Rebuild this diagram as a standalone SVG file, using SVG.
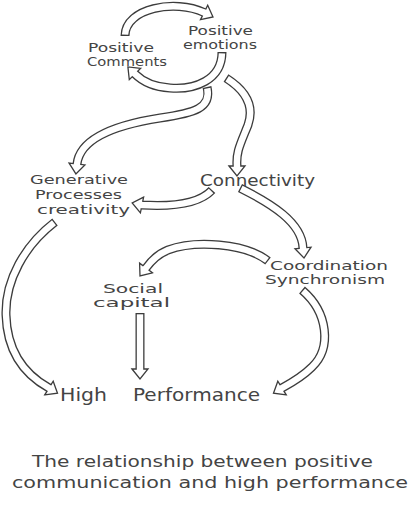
<svg xmlns="http://www.w3.org/2000/svg" width="413" height="512" viewBox="0 0 413 512">
<style>
.o{fill:none;stroke:#3c3c3c;stroke-width:9;stroke-linecap:butt;stroke-linejoin:round}
.i{fill:none;stroke:#fff;stroke-width:6.4;stroke-linecap:butt;stroke-dasharray:0 1.3 2000}
.h{fill:#fff;stroke:#3c3c3c;stroke-width:1.3;stroke-linejoin:miter}
text{font-family:"DejaVu Sans","Noto Sans",sans-serif;font-weight:normal;fill:#444}
.s12{font-size:12px}.s13{font-size:13px}.s15{font-size:15px}.s18{font-size:18px}.s16{font-size:16px}
</style>
<defs>
<path id="p1" d="M125,36 C125,8 175,-1 204.1,12.5 l2.7,1.3"/>
<path id="p2" d="M222,52 C222,80 195,90 170,88 C155,87 143,82 135,74 l-2.1,-2.1"/>
<path id="p3" d="M207,87 C212,108 195,113 160,118 C115,125 80,138 77,164 l-0.3,3"/>
<path id="p4" d="M226,78 C245,90 255,105 248,125 C240,145 236,152 237,166 l0,3"/>
<path id="p5" d="M212,190 C200,203 175,207 142,205 l-2.9,-0.6"/>
<path id="p6" d="M240,188 C270,203 302,222 303,248 l0.3,3"/>
<path id="p7" d="M55,222 C25,245 5,280 6,315 C7,350 22,373 49,388 l2.6,1.6"/>
<path id="p8" d="M268,261 C245,243 195,240 168,250 C158,254 151,261 146,268 l-1.8,2.4"/>
<path id="p9" d="M140,313 L140,369 l0,3"/>
<path id="p10" d="M302,290 C328,312 332,348 312,367 C303,376 293,382 282,388 l-2.6,1.6"/>
</defs>
<rect width="413" height="512" fill="#fff"/>
<g id="connectors">
<g id="a1"><use href="#p1" class="o"/><polygon class="h" points="200.5,19.7 213,17 207.7,5.3"/><use href="#p1" class="i"/></g>
<g id="a2"><use href="#p2" class="o"/><polygon class="h" points="140.7,68.3 127.9,66.9 129.3,79.7"/><use href="#p2" class="i"/></g>
<g id="a3"><use href="#p3" class="o"/><polygon class="h" points="69.1,163.1 75.9,173.9 84.9,164.9"/><use href="#p3" class="i"/></g>
<g id="a4"><use href="#p4" class="o"/><polygon class="h" points="229,166 237,176 245,166"/><use href="#p4" class="i"/></g>
<g id="a5"><use href="#p5" class="o"/><polygon class="h" points="143.6,197.2 132.2,203 140.4,212.8"/><use href="#p5" class="i"/></g>
<g id="a6"><use href="#p6" class="o"/><polygon class="h" points="295,248.8 304,258 311,247.2"/><use href="#p6" class="i"/></g>
<g id="a7"><use href="#p7" class="o"/><polygon class="h" points="44.8,394.8 57.5,393.2 53.2,381.2"/><use href="#p7" class="i"/></g>
<g id="a8"><use href="#p8" class="o"/><polygon class="h" points="152.4,272.8 140,276 139.6,263.2"/><use href="#p8" class="i"/></g>
<g id="a9"><use href="#p9" class="o"/><polygon class="h" points="132,369 140,379 148,369"/><use href="#p9" class="i"/></g>
<g id="a10"><use href="#p10" class="o"/><polygon class="h" points="286.2,394.8 273.5,393.2 277.8,381.2"/><use href="#p10" class="i"/></g>
</g>
<g id="positive-comments">
<text class="s12" x="88" y="52" textLength="66" lengthAdjust="spacingAndGlyphs">Positive</text>
<text class="s12" x="87" y="66" textLength="80" lengthAdjust="spacingAndGlyphs">Comments</text>
</g>
<g id="positive-emotions">
<text class="s12" x="188" y="35" textLength="65" lengthAdjust="spacingAndGlyphs">Positive</text>
<text class="s12" x="183" y="49" textLength="74" lengthAdjust="spacingAndGlyphs">emotions</text>
</g>
<g id="generative">
<text class="s13" x="30" y="184" textLength="98" lengthAdjust="spacingAndGlyphs">Generative</text>
<text class="s13" x="35" y="199" textLength="87" lengthAdjust="spacingAndGlyphs">Processes</text>
<text class="s13" x="37" y="214" textLength="93" lengthAdjust="spacingAndGlyphs">creativity</text>
</g>
<g id="connectivity">
<text class="s15" x="200" y="186" textLength="115" lengthAdjust="spacingAndGlyphs">Connectivity</text>
</g>
<g id="coordination">
<text class="s12" x="270" y="270" textLength="118" lengthAdjust="spacingAndGlyphs">Coordination</text>
<text class="s12" x="265" y="284" textLength="120" lengthAdjust="spacingAndGlyphs">Synchronism</text>
</g>
<g id="social-capital">
<text class="s12" x="103" y="293" textLength="60" lengthAdjust="spacingAndGlyphs">Social</text>
<text class="s12" x="93" y="307" textLength="77" lengthAdjust="spacingAndGlyphs">capital</text>
</g>
<g id="high-performance">
<text class="s18" x="60" y="401" textLength="47" lengthAdjust="spacingAndGlyphs">High</text>
<text class="s18" x="133" y="401" textLength="127" lengthAdjust="spacingAndGlyphs">Performance</text>
</g>
<g id="caption">
<text class="s16" x="32" y="467" textLength="341" lengthAdjust="spacingAndGlyphs">The relationship between positive</text>
<text class="s16" x="12" y="488" textLength="396" lengthAdjust="spacingAndGlyphs">communication and high performance</text>
</g>
</svg>
